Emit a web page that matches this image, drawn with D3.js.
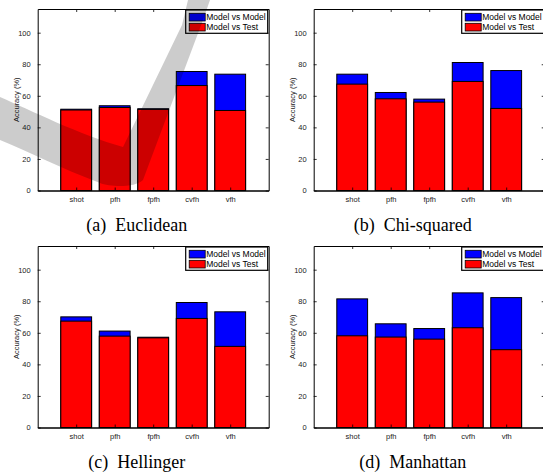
<!DOCTYPE html>
<html>
<head>
<meta charset="utf-8">
<script src="https://cdn.jsdelivr.net/npm/d3@7"></script>
<style>
  body { margin: 0; background: #fff; }
  svg { display: block; }
</style>
</head>
<body>
<script>
var width = 543;
var height = 475;

var categories = ["shot", "pfh", "fpfh", "cvfh", "vfh"];
var metrics = ["Euclidean", "Chi-squared", "Hellinger", "Manhattan"];
var panelTags = ["(a)", "(b)", "(c)", "(d)"];
var legendLabels = ["Model vs Model", "Model vs Test"];
var yTicks = [0, 20, 40, 60, 80, 100];

// accuracy (%) per descriptor
var euclideanModel = [51.5, 53.7, 51.8, 75.4, 73.7];
var euclideanTest  = [51.0, 52.6, 51.4, 66.5, 50.7];
var chiModel = [73.7, 62.1, 57.9, 81.1, 76.0];
var chiTest  = [67.4, 58.1, 56.0, 69.1, 52.0];
var hellingerModel = [70.1, 61.1, 57.2, 79.2, 73.3];
var hellingerTest  = [67.4, 57.9, 56.8, 69.1, 51.4];
var manhattanModel = [81.5, 65.7, 62.7, 85.3, 82.3];
var manhattanTest  = [58.1, 57.3, 56.0, 63.2, 49.3];

var modelSeries = [euclideanModel, chiModel, hellingerModel, manhattanModel];
var testSeries = [euclideanTest, chiTest, hellingerTest, manhattanTest];

var axW = 231;
var axH = 181.5;
var origins = [[37.7, 9], [313.7, 9], [37.7, 246], [313.7, 246]];
var blue = "#0000ff";
var red = "#ff0000";
var sans = "'Liberation Sans', Arial, sans-serif";

var svg = d3.select("body").append("svg")
            .attr("width", width)
            .attr("height", height);
svg.append("rect").attr("width", width).attr("height", height).attr("fill", "#fff");

var drawPanel = function(p) {
    var L = origins[p][0], T = origins[p][1];
    var g = svg.append("g");
    var xScale = d3.scaleLinear().domain([0, 6]).range([L, L + axW]);
    var yScale = d3.scaleLinear().domain([0, 115]).range([T + axH, T]);
    var barW = xScale(0.8) - xScale(0);

    var rows = categories.map(function(c, i) {
        return {name: c, pos: i + 1, model: modelSeries[p][i], test: testSeries[p][i]};
    });

    // white plot area + box
    g.append("rect")
     .attr("x", L).attr("y", T).attr("width", axW).attr("height", axH)
     .attr("fill", "#fff");

    // blue bars behind, red bars in front
    g.selectAll("rect.model")
     .data(rows)
     .enter()
     .append("rect")
     .attr("class", "model")
     .attr("x", function(d) { return xScale(d.pos) - barW / 2; })
     .attr("y", function(d) { return yScale(d.model); })
     .attr("width", barW)
     .attr("height", function(d) { return yScale(0) - yScale(d.model); })
     .attr("fill", blue)
     .attr("stroke", "#000")
     .attr("stroke-width", 1);

    g.selectAll("rect.test")
     .data(rows)
     .enter()
     .append("rect")
     .attr("class", "test")
     .attr("x", function(d) { return xScale(d.pos) - barW / 2; })
     .attr("y", function(d) { return yScale(d.test); })
     .attr("width", barW)
     .attr("height", function(d) { return yScale(0) - yScale(d.test); })
     .attr("fill", red)
     .attr("stroke", "#000")
     .attr("stroke-width", 1);

    // axes (ticks inward, mirrored on top/right)
    var left = d3.axisLeft(yScale).tickValues(yTicks).tickSizeInner(-3).tickSizeOuter(0).tickPadding(7);
    var right = d3.axisRight(yScale).tickValues(yTicks).tickSizeInner(-3).tickSizeOuter(0).tickFormat("");
    var bottom = d3.axisBottom(xScale).tickValues([1, 2, 3, 4, 5]).tickSizeInner(-3).tickSizeOuter(0).tickPadding(6)
                   .tickFormat(function(d) { return categories[d - 1]; });
    var top = d3.axisTop(xScale).tickValues([1, 2, 3, 4, 5]).tickSizeInner(-3).tickSizeOuter(0).tickFormat("");

    var ax = [
        g.append("g").attr("transform", "translate(" + L + ",0)").call(left),
        g.append("g").attr("transform", "translate(" + (L + axW) + ",0)").call(right),
        g.append("g").attr("transform", "translate(0," + (T + axH) + ")").call(bottom),
        g.append("g").attr("transform", "translate(0," + T + ")").call(top)
    ];
    ax.forEach(function(a) {
        a.attr("font-family", sans).attr("font-size", 7.5);
        a.selectAll("text").attr("fill", "#222");
        a.selectAll("path.domain").attr("stroke", "#000").attr("stroke-width", 1);
        a.selectAll(".tick line").attr("stroke", "#000").attr("stroke-width", 0.8);
    });
    ax[2].select("path.domain").attr("stroke-width", 1.6);

    g.append("text")
     .attr("transform", "translate(" + (L - 21) + "," + (T + axH / 2) + ") rotate(-90)")
     .attr("text-anchor", "middle")
     .attr("dy", "0.35em")
     .attr("font-family", sans)
     .attr("font-size", 7.5)
     .attr("fill", "#222")
     .text("Accuracy (%)");

    // legend
    var lx = L + axW - 83, ly = T + 1;
    var lg = g.append("g");
    lg.append("rect")
      .attr("x", lx).attr("y", ly).attr("width", 82).attr("height", 23.3)
      .attr("fill", "#fff").attr("stroke", "#000").attr("stroke-width", 1.2);
    [blue, red].forEach(function(c, i) {
        lg.append("rect")
          .attr("x", lx + 3.5).attr("y", ly + 3.3 + i * 10).attr("width", 16).attr("height", 7.7)
          .attr("fill", c).attr("stroke", "#000").attr("stroke-width", 0.8);
        lg.append("text")
          .attr("x", lx + 20.5).attr("y", ly + 10.3 + i * 10)
          .attr("font-family", sans).attr("font-size", 8.5)
          .attr("fill", "#000")
          .text(legendLabels[i]);
    });

    // caption
    svg.append("text")
       .attr("x", L + 99).attr("y", T + 222)
       .attr("text-anchor", "middle")
       .attr("font-family", "'Liberation Serif', 'Times New Roman', serif")
       .attr("font-size", 18)
       .attr("fill", "#000")
       .attr("xml:space", "preserve")
       .text(panelTags[p] + "\u00a0\u00a0" + metrics[p]);
};

for (var p = 0; p < 4; p++) {
    drawPanel(p);
}

// grey brush-stroke overlay seen over panel (a)
svg.append("path")
   .attr("d", "M0,97 C30,110 80,135 123,147 L182,25 L188,0 L210,0 L203,20 L143,180 C135,188 110,187 100,183 C60,168 30,152 0,140 Z")
   .attr("fill", "#000")
   .attr("fill-opacity", 0.2);
</script>
</body>
</html>
